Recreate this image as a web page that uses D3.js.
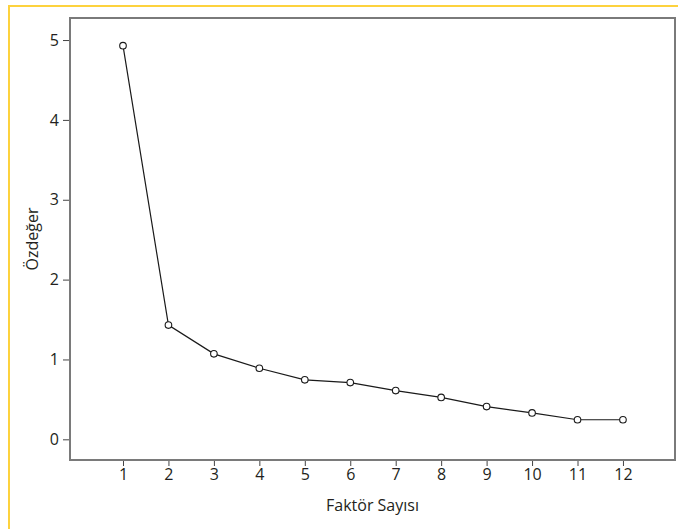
<!DOCTYPE html>
<html>
<head>
<meta charset="utf-8">
<script src="https://cdn.jsdelivr.net/npm/d3@7"></script>
<style>
  body { margin: 0; background: #fff; }
  text { font-family: "Open Sans", sans-serif; fill: #231f20; }
</style>
</head>
<body>
<script>
var w = 678,
    h = 529;

// faktor numbers and eigenvalues
var factors = [1, 2, 3, 4, 5, 6, 7, 8, 9, 10, 11, 12];
var eigenvalues = [4.93, 1.43, 1.07, 0.89, 0.745, 0.71, 0.61, 0.525, 0.41, 0.33, 0.245, 0.245];
var yTicks = [0, 1, 2, 3, 4, 5];

var frame = { left: 70, top: 18, right: 675, bottom: 460 };

var svg = d3.select('body')
  .append('svg')
  .attr('width', w)
  .attr('height', h);

// yellow page border (top and left)
svg.append('path')
  .attr('d', 'M9,' + h + 'V6H' + w)
  .attr('fill', 'none')
  .attr('stroke', '#fdd23e')
  .attr('stroke-width', 2);

var x = d3.scaleLinear()
  .domain([-0.166, 13.145])
  .range([frame.left, frame.right]);

var y = d3.scaleLinear()
  .domain([-0.259, 5.276])
  .range([frame.bottom, frame.top]);

var xAxis = svg.append('g')
  .attr('transform', 'translate(0,' + frame.bottom + ')')
  .call(d3.axisBottom(x).tickValues(factors).tickSize(6).tickPadding(3).tickFormat(d3.format('d')));

var yAxis = svg.append('g')
  .attr('transform', 'translate(' + frame.left + ',0)')
  .call(d3.axisLeft(y).tickValues(yTicks).tickSize(7).tickPadding(4).tickFormat(d3.format('d')));

[xAxis, yAxis].forEach(function(a) {
  a.select('.domain').remove();
  a.selectAll('.tick line').attr('stroke', '#444').attr('stroke-width', 1);
  a.selectAll('.tick text').style('font-size', '16px').attr('fill', '#231f20');
});

// box around plot
svg.append('rect')
  .attr('x', frame.left)
  .attr('y', frame.top)
  .attr('width', frame.right - frame.left)
  .attr('height', frame.bottom - frame.top)
  .attr('fill', 'none')
  .attr('stroke', '#7a7a7a')
  .attr('stroke-width', 2);

var points = factors.map(function(f, i) {
  return { f: f, v: eigenvalues[i] };
});

var line = d3.line()
  .x(function(d) { return x(d.f); })
  .y(function(d) { return y(d.v); });

svg.append('path')
  .attr('d', line(points))
  .attr('fill', 'none')
  .attr('stroke', '#1a1a1a')
  .attr('stroke-width', 1.2);

svg.selectAll('circle.pt')
  .data(points)
  .enter()
  .append('circle')
  .attr('class', 'pt')
  .attr('cx', function(d) { return x(d.f); })
  .attr('cy', function(d) { return y(d.v); })
  .attr('r', 3.3)
  .attr('fill', '#fff')
  .attr('stroke', '#1a1a1a')
  .attr('stroke-width', 1.1);

svg.append('text')
  .attr('x', (frame.left + frame.right) / 2)
  .attr('y', 511)
  .attr('text-anchor', 'middle')
  .style('font-size', '16px')
  .text('Faktör Sayısı');

svg.append('text')
  .attr('transform', 'translate(38,' + (frame.top + frame.bottom) / 2 + ') rotate(-90)')
  .attr('text-anchor', 'middle')
  .style('font-size', '16px')
  .text('Özdeğer');
</script>
</body>
</html>
